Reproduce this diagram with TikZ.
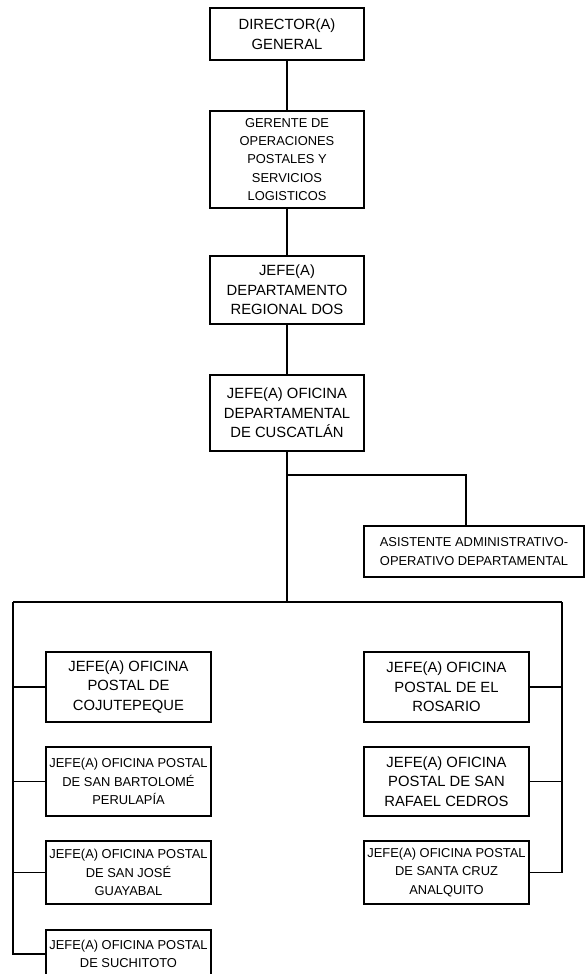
\documentclass[tikz,border=0pt]{standalone}
\usepackage{fontspec}
\setmainfont{Liberation Sans}
\usepackage{tikz}
\tikzset{
  box/.style={draw, line width=1.1pt, align=center, inner sep=1pt},
  bigtxt/.style={font=\fontsize{14.8}{19.5}\selectfont},
  smalltxt/.style={font=\fontsize{12.9}{18.2}\selectfont},
  link/.style={line width=1.1pt}
}

\begin{document}
\begin{tikzpicture}[x=1pt,y=-1pt]
  \useasboundingbox[fill=white] (0,0) rectangle (585,974);

  % cadena de mando
  \node[box,bigtxt,minimum width=154pt,minimum height=52pt] (dir) at (287,34) {DIRECTOR(A)\\GENERAL};
  \node[box,smalltxt,minimum width=154pt,minimum height=97pt] (ger) at (287,159.5) {GERENTE DE\\OPERACIONES\\POSTALES Y\\SERVICIOS\\LOGISTICOS};
  \node[box,bigtxt,minimum width=154pt,minimum height=68pt] (reg) at (287,290) {JEFE(A)\\DEPARTAMENTO\\REGIONAL DOS};
  \node[box,bigtxt,minimum width=154pt,minimum height=76pt] (dep) at (287,413) {JEFE(A) OFICINA\\DEPARTAMENTAL\\DE CUSCATL\'AN};
  \node[box,smalltxt,minimum width=220pt,minimum height=51pt] (asis) at (474,551.5) {ASISTENTE ADMINISTRATIVO-\\OPERATIVO DEPARTAMENTAL};

  % oficinas postales, columna izquierda
  \node[box,bigtxt,minimum width=165pt,minimum height=70pt] (coju) at (128.5,687) {JEFE(A) OFICINA\\POSTAL DE\\COJUTEPEQUE};
  \node[box,smalltxt,minimum width=165pt,minimum height=69pt] (bart) at (128.5,781.5) {JEFE(A) OFICINA POSTAL\\DE SAN BARTOLOM\'E\\PERULAP\'IA};
  \node[box,smalltxt,minimum width=165pt,minimum height=63pt] (jose) at (128.5,872.5) {JEFE(A) OFICINA POSTAL\\DE SAN JOS\'E\\GUAYABAL};
  \node[box,smalltxt,minimum width=165pt,minimum height=48pt] (such) at (128.5,954) {JEFE(A) OFICINA POSTAL\\DE SUCHITOTO};

  % oficinas postales, columna derecha
  \node[box,bigtxt,minimum width=165pt,minimum height=70pt] (rosa) at (446.5,687) {JEFE(A) OFICINA\\POSTAL DE EL\\ROSARIO};
  \node[box,bigtxt,minimum width=165pt,minimum height=69pt] (cedr) at (446.5,781.5) {JEFE(A) OFICINA\\POSTAL DE SAN\\RAFAEL CEDROS};
  \node[box,smalltxt,minimum width=165pt,minimum height=63pt] (cruz) at (446.5,872.5) {JEFE(A) OFICINA POSTAL\\DE SANTA CRUZ\\ANALQUITO};

  \coordinate (split) at (287,475);
  \coordinate (bar) at (287,602);
  \coordinate (barL) at (13,602);
  \coordinate (barR) at (562,602);

  \draw[link] (dir) -- (ger);
  \draw[link] (ger) -- (reg);
  \draw[link] (reg) -- (dep);
  \draw[link] (dep) -- (bar);
  \draw[link] (split) -| ([xshift=-8pt]asis.north);
  \draw[link] (barL) -- (barR);

  \foreach \n in {coju,bart,jose,such}
    \draw[link] (barL) |- (\n.west);
  \foreach \n in {rosa,cedr,cruz}
    \draw[link] (barR) |- (\n.east);
\end{tikzpicture}
\end{document}
